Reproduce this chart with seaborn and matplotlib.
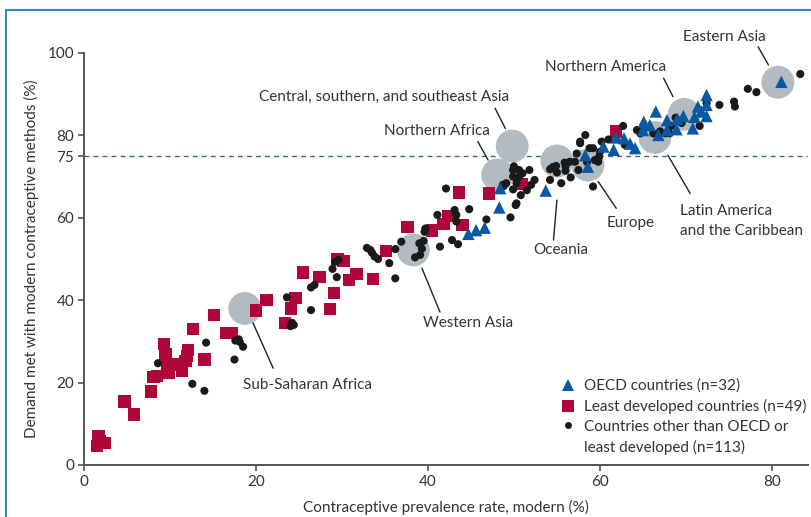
import matplotlib
matplotlib.use("Agg")
import matplotlib.pyplot as plt
import seaborn as sns
import pandas as pd
from matplotlib.lines import Line2D

# ---------------- data ----------------
oecd_x = [44.7, 45.6, 46.6, 48.3, 48.4, 53.7, 58.3, 58.6, 60.4, 61.6, 61.9, 62.8, 64.1, 65.1, 66.5, 65.8,
          66.8, 67.8, 67.8, 68.9, 69.7, 70.8, 71.0, 71.4, 72.4, 72.4, 72.4, 71.8, 81.1, 65.0, 69.0, 63.5]
oecd_y = [56.1, 57.0, 57.6, 62.5, 67.2, 66.6, 75.2, 72.4, 77.3, 76.5, 79.5, 79.3, 76.9, 83.3, 85.8, 82.5,
          80.1, 83.7, 81.3, 81.5, 84.7, 81.7, 84.5, 87.0, 89.8, 87.4, 84.7, 85.8, 93.0, 81.3, 84.0, 78.0]

ldc_x = [1.6, 2.4, 1.7, 1.5, 4.7, 5.8, 7.8, 8.1, 8.5, 9.3, 9.5, 9.9, 9.7, 11.0, 11.4, 11.8, 12.1, 12.7,
         14.0, 15.1, 16.5, 17.2, 20.0, 21.2, 23.4, 24.1, 24.6, 25.5, 27.4, 28.6, 29.1, 29.5, 30.2, 30.8,
         31.7, 33.6, 35.1, 37.6, 40.5, 41.8, 42.3, 44.0, 43.6, 47.1, 50.9, 61.9, 10.5, 12.0, 1.8]
ldc_y = [5.3, 5.3, 6.9, 4.6, 15.4, 12.3, 17.8, 21.3, 21.6, 29.4, 26.9, 22.4, 23.9, 24.3, 22.8, 25.3, 27.9, 33.0,
         25.6, 36.4, 32.0, 32.1, 37.5, 40.0, 34.4, 38.0, 40.6, 46.7, 45.7, 37.9, 41.8, 50.0, 49.5, 44.9,
         46.4, 45.1, 52.0, 57.8, 56.9, 58.5, 60.4, 58.3, 66.1, 65.9, 68.2, 80.9, 24.5, 26.5, 5.8]

other_x = [8.6, 12.6, 14.0, 14.2, 17.5, 17.6, 18.1, 18.5, 23.6, 24.2, 24.0, 26.4, 26.4, 26.8, 28.9, 29.4,
           29.2, 32.9, 33.3, 33.8, 34.2, 35.5, 36.2, 36.2, 36.9, 38.5, 39.1, 39.0, 39.5, 39.6, 41.1, 41.4,
           42.1, 42.8, 43.1, 43.5, 43.3, 44.8, 46.8, 49.6, 48.8, 49.9, 50.3, 50.3, 49.9, 50.6, 51.8, 49.9,
           50.6, 50.3, 52.4, 50.8, 50.2, 51.5, 54.2, 54.5, 54.9, 54.2, 55.5, 55.9, 56.5, 57.1, 56.0, 56.6,
           57.3, 57.5, 57.7, 58.3, 58.8, 59.2, 59.2, 59.4, 59.9, 59.8, 60.2, 62.7, 62.9, 64.3, 64.7, 66.2,
           67.6, 68.1, 68.3, 68.8, 71.6, 72.4, 73.9, 75.6, 75.7, 77.2, 78.2, 83.3, 48.7, 49.1, 39.7, 57.7,
           43.3, 18.0, 24.4, 29.6, 33.5, 39.3, 50.0, 51.0, 52.0, 55.0, 56.0, 58.5, 60.0, 61.0, 65.0, 67.0,
           69.5]
other_y = [24.7, 19.7, 18.0, 29.7, 25.6, 30.2, 29.9, 28.7, 40.7, 34.5, 33.7, 43.1, 37.6, 43.7, 47.6, 45.6,
           49.3, 52.7, 52.2, 50.6, 50.0, 49.0, 45.3, 52.4, 54.2, 50.4, 51.0, 53.8, 54.4, 56.6, 60.7, 53.0,
           67.1, 54.6, 61.9, 53.6, 59.1, 62.1, 59.6, 60.1, 67.7, 66.9, 63.5, 69.6, 71.6, 71.6, 71.6, 70.0,
           70.0, 68.4, 69.2, 65.5, 63.1, 66.7, 71.8, 72.3, 72.6, 69.2, 68.4, 73.4, 73.6, 73.6, 71.4, 69.8,
           75.6, 71.6, 78.5, 80.1, 76.9, 76.9, 67.6, 74.0, 74.8, 73.6, 78.5, 82.3, 77.7, 81.3, 80.5, 80.5,
           80.5, 80.5, 82.3, 84.3, 82.3, 87.8, 87.4, 88.2, 87.0, 91.3, 90.5, 94.9, 68.0, 68.4, 57.4, 78.1,
           60.7, 30.5, 34.0, 49.8, 51.5, 52.5, 72.5, 70.8, 68.0, 71.0, 72.5, 73.5, 76.0, 79.0, 82.0, 81.0,
           83.0]

region_names = ["Sub-Saharan Africa", "Western Asia", "Northern Africa",
                "Central, southern, and southeast Asia", "Oceania", "Europe",
                "Latin America\nand the Caribbean", "Northern America", "Eastern Asia"]
region_x = [18.7, 38.3, 48.1, 49.8, 55.0, 58.6, 66.4, 69.8, 80.7]
region_y = [38.0, 52.2, 70.4, 77.4, 73.8, 72.8, 79.5, 85.1, 92.9]

x_ticks = [0, 20, 40, 60, 80]
y_ticks = [0, 20, 40, 60, 75, 80, 100]
threshold = 75

legend_labels = ["OECD countries (n=32)", "Least developed countries (n=49)",
                 "Countries other than OECD or", "least developed (n=113)"]

# ---------------- style ----------------
sns.set_style("ticks")
plt.rcParams["font.family"] = ["Lato", "DejaVu Sans"]
TXT = "#333333"
SPINE = "#555555"
BLUE = "#0a57a3"
RED = "#b00538"
BLACK = "#1a1a1a"
GREY = "#b3bbc2"

fig = plt.figure(figsize=(8.12, 5.17), dpi=100)
ax = fig.add_axes([84 / 812, 1 - 465 / 517, (808 - 84) / 812, (465 - 53) / 517])

df_reg = pd.DataFrame({"x": region_x, "y": region_y})
df_o = pd.DataFrame({"x": oecd_x, "y": oecd_y})
df_l = pd.DataFrame({"x": ldc_x, "y": ldc_y})
df_c = pd.DataFrame({"x": other_x, "y": other_y})

sns.scatterplot(data=df_reg, x="x", y="y", ax=ax, s=560, color=GREY, edgecolor="none",
                linewidth=0, zorder=1, clip_on=False)
sns.scatterplot(data=df_l, x="x", y="y", ax=ax, s=80, marker="s", color=RED, edgecolor="none",
                linewidth=0, zorder=3, clip_on=False)
sns.scatterplot(data=df_c, x="x", y="y", ax=ax, s=34, marker="o", color=BLACK, edgecolor="none",
                linewidth=0, zorder=4, clip_on=False)
sns.scatterplot(data=df_o, x="x", y="y", ax=ax, s=80, marker="^", color=BLUE, edgecolor="none",
                linewidth=0, zorder=5, clip_on=False)

ax.axhline(threshold, color="#4a6478", lw=1.0, ls=(0, (3.5, 3)), zorder=0.5)

ax.set_xlim(0, 84.2)
ax.set_ylim(0, 100)
ax.set_xticks(x_ticks)
ax.set_yticks(y_ticks)
ax.set_xlabel("Contraceptive prevalence rate, modern (%)", fontsize=11, color=TXT, labelpad=8)
ax.set_ylabel("Demand met with modern contraceptive methods (%)", fontsize=11, color=TXT, labelpad=6)
ax.tick_params(axis="both", labelsize=11, colors=TXT, length=4, width=1.2, color=SPINE, pad=3)
for s in ["top", "right"]:
    ax.spines[s].set_visible(False)
for s in ["left", "bottom"]:
    ax.spines[s].set_color(SPINE)
    ax.spines[s].set_linewidth(1.4)

# ---------------- region labels with leader lines ----------------
leaders = [
    ((19.65, 34.5), (22.0, 23.5), (18.5, 19.4), "left"),
    ((39.3, 47.8), (41.4, 37.1), (39.4, 34.5), "left"),
    ((45.8, 78.5), (47.0, 74.0), (41.0, 81.1), "center"),
    ((47.8, 86.6), (49.0, 81.7), (34.9, 89.3), "center"),
    ((55.0, 64.3), (54.6, 54.6), (55.5, 52.2), "center"),
    ((59.8, 68.8), (61.9, 62.3), (63.6, 58.7), "center"),
    ((67.9, 75.2), (70.5, 65.9), (69.3, 59.2), "left"),
    ((67.4, 93.9), (68.5, 89.4), (60.7, 96.6), "center"),
    ((78.4, 101.5), (79.6, 97.1), (74.5, 103.9), "center"),
]
for name, (p1, p2, tp, ha) in zip(region_names, leaders):
    ax.plot([p1[0], p2[0]], [p1[1], p2[1]], color="#222222", lw=1.0, zorder=2, clip_on=False)
    ax.text(tp[0], tp[1], name, ha=ha, va="center", fontsize=11, color=TXT,
            linespacing=1.5, clip_on=False)

# ---------------- legend ----------------
handles = [
    Line2D([], [], marker="^", ls="none", color=BLUE, markersize=9, markeredgewidth=0),
    Line2D([], [], marker="s", ls="none", color=RED, markersize=9, markeredgewidth=0),
    Line2D([], [], marker="o", ls="none", color=BLACK, markersize=5, markeredgewidth=0),
    Line2D([], [], marker="", ls="none"),
]
leg = ax.legend(handles, legend_labels, loc="upper left", bbox_to_anchor=(553 / 812, 1 - 371 / 517),
                bbox_transform=fig.transFigure, frameon=False, fontsize=11, handlelength=1.0,
                handletextpad=0.5, labelspacing=0.38, borderpad=0)
for t in leg.get_texts():
    t.set_color(TXT)

# ---------------- frame lines ----------------
fig.add_artist(Line2D([6 / 812, 1], [1 - 10 / 517, 1 - 10 / 517], transform=fig.transFigure,
                      color="#3a86c6", lw=1.5))
fig.add_artist(Line2D([6 / 812, 6 / 812], [0, 1 - 10 / 517], transform=fig.transFigure,
                      color="#3a86c6", lw=1.5))

fig.savefig("out.png", dpi=100)
